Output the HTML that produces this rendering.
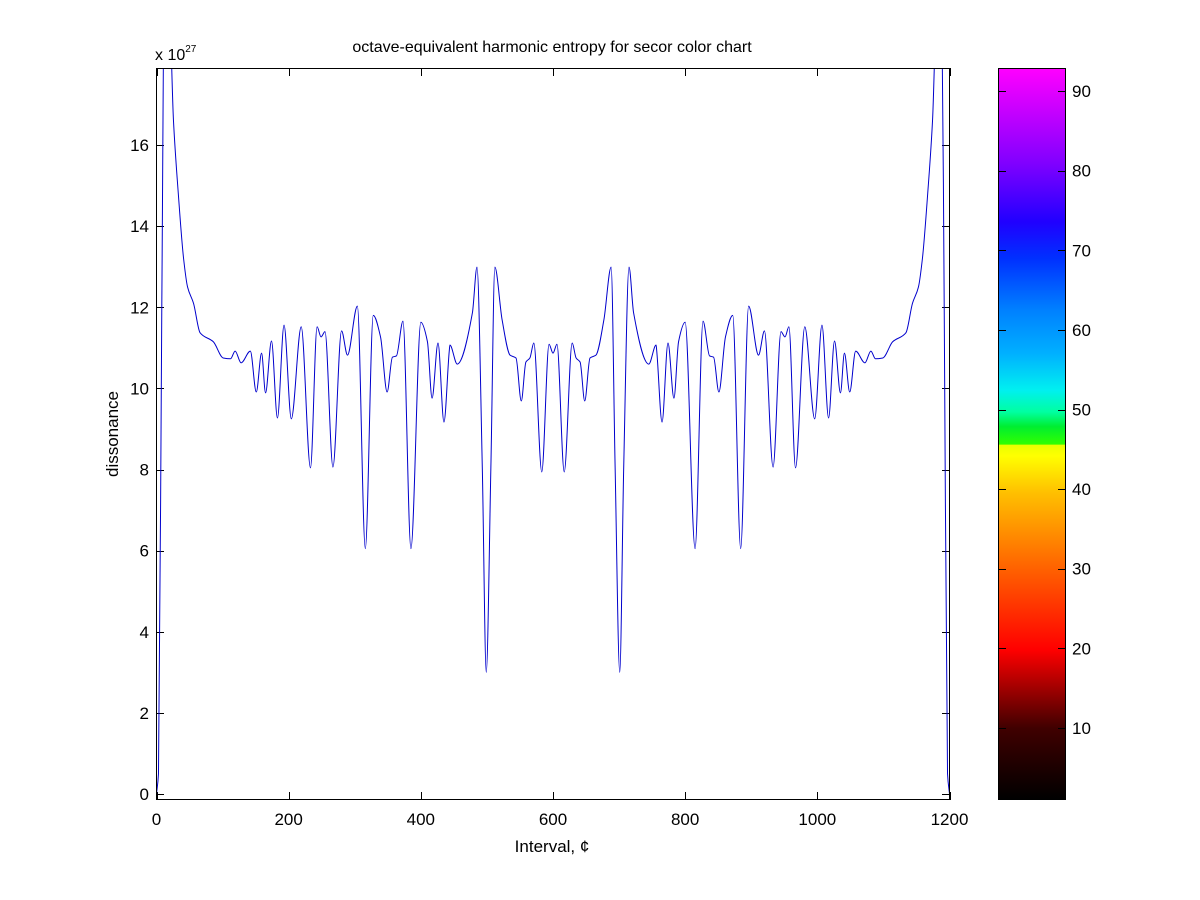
<!DOCTYPE html>
<html><head><meta charset="utf-8"><style>
html,body{margin:0;padding:0;background:#fff;}
svg{display:block;font-family:"Liberation Sans",Arial,sans-serif;}
</style></head><body>
<svg id="chart" width="1200" height="900" viewBox="0 0 1200 900">
<defs>
<clipPath id="plotClip"><rect x="156" y="68" width="794" height="732"/></clipPath>
<linearGradient id="cbGrad" x1="0" y1="1" x2="0" y2="0">
<stop offset="0" stop-color="#000000"/>
<stop offset="0.098" stop-color="#400000"/>
<stop offset="0.205" stop-color="#ff0000"/>
<stop offset="0.314" stop-color="#ff6000"/>
<stop offset="0.42" stop-color="#ffc000"/>
<stop offset="0.47" stop-color="#ffff00"/>
<stop offset="0.485" stop-color="#e8ff00"/>
<stop offset="0.486" stop-color="#30ff00"/>
<stop offset="0.51" stop-color="#00ee30"/>
<stop offset="0.53" stop-color="#00ffa0"/>
<stop offset="0.56" stop-color="#00f0f0"/>
<stop offset="0.61" stop-color="#00b0ff"/>
<stop offset="0.67" stop-color="#0080ff"/>
<stop offset="0.74" stop-color="#0030ff"/>
<stop offset="0.79" stop-color="#2000ff"/>
<stop offset="0.87" stop-color="#8000ff"/>
<stop offset="1" stop-color="#ff00ff"/>
</linearGradient>
</defs>
<rect x="156" y="68" width="794" height="732" fill="#fff" stroke="none"/>
<g id="ticks"></g>
<path id="curve" clip-path="url(#plotClip)" fill="none" stroke="#0000cc" stroke-width="1"/>
<rect x="156.5" y="68.5" width="793" height="731" fill="none" stroke="#000" stroke-width="1"/>
<text x="552" y="52" font-size="16" text-anchor="middle">octave-equivalent harmonic entropy for secor color chart</text>
<text x="155" y="60" font-size="16">x 10<tspan font-size="10" dy="-8">27</tspan></text>
<text x="552" y="852" font-size="17" text-anchor="middle">Interval, ¢</text>
<text x="0" y="0" font-size="17" text-anchor="middle" transform="translate(118,434) rotate(-90)">dissonance</text>
<rect x="998.5" y="68.5" width="67" height="731" fill="url(#cbGrad)" stroke="#000" stroke-width="1"/>
<g id="cbticks"></g>
</svg>
<script>
const xTicks = [0, 200, 400, 600, 800, 1000, 1200];
const yTicks = [0, 2, 4, 6, 8, 10, 12, 14, 16];
const cbTicks = [10, 20, 30, 40, 50, 60, 70, 80, 90];
const cents = [0,3,8,12,18,25.7,33,41,47,56,66,86,101,112,119,128,142,151,159,165,174,183,193,204,219,233,243,249,255,267,280,289,304,316,328,339,349,357,363,373,385,400,410,417,426,435,443,444,455,478,485,493,499,506,512,523,535,544,552,559,565,571,583,594,600,
606,617,629,635,641,648,656,665,677,688,694,701,707,715,722,745,756,757,765,774,783,790,800,815,827,837,843,851,861,872,884,896,911,920,933,945,951,957,967,981,996,1007,1017,1026,1035,1041,1049,1058,1072,1081,1088,1099,1114,1134,1144,1153,1159,1167,1174.3,1182,1188,1192,1197,1200];
const dissonance = [0,0.5,12,20,20,16.6,14.8,13.2,12.5,12.1,11.37,11.15,10.75,10.73,10.92,10.63,10.92,9.91,10.87,9.89,11.17,9.27,11.56,9.25,11.52,8.04,11.52,11.27,11.4,8.06,11.42,10.82,12.03,6.05,11.8,11.27,9.91,10.77,10.8,11.66,6.05,11.63,11.15,9.76,11.12,9.17,10.92,11.07,10.6,11.86,12.99,8.06,3.0,8.06,12.99,11.69,10.82,10.75,9.69,10.65,10.75,11.12,7.94,11.09,10.87,
11.09,7.94,11.12,10.75,10.65,9.69,10.75,10.82,11.69,12.99,8.06,3.0,8.06,12.99,11.86,10.6,11.07,10.92,9.17,11.12,9.76,11.15,11.63,6.05,11.66,10.8,10.77,9.91,11.27,11.8,6.05,12.03,10.82,11.42,8.06,11.4,11.27,11.52,8.04,11.52,9.25,11.56,9.27,11.17,9.89,10.87,9.91,10.92,10.63,10.92,10.73,10.75,11.15,11.37,12.1,12.5,13.2,14.8,16.6,20,20,12,0.5,0];

const X0=156.5, X1=949.5, Y0=800, Y1=68;
const xMin=0, xMax=1200, yMin=-0.148, yMax=17.9;
function xs(v){return X0+(v-xMin)/(xMax-xMin)*(X1-X0);}
function ys(v){return Y0-(v-yMin)/(yMax-yMin)*(Y0-Y1);}
const cbMin=0.95, cbMax=92.9;
function cs(v){return 800-(v-cbMin)/(cbMax-cbMin)*732;}
const NS='http://www.w3.org/2000/svg';
const tg=document.getElementById('ticks');
function mk(tag,attrs,parent,txt){const e=document.createElementNS(NS,tag);for(const k in attrs)e.setAttribute(k,attrs[k]);if(txt!==undefined)e.textContent=txt;parent.appendChild(e);return e;}
xTicks.forEach(t=>{
  const x=Math.round(xs(t))+0.5;
  const l1=mk('line',{x1:x,y1:800,x2:x,y2:792,stroke:'#000'},tg);
  
  
  const l2=mk('line',{x1:x,y1:68,x2:x,y2:76,stroke:'#000'},tg);
  
  
  const tx=mk('text',{x:xs(t),y:825,'font-size':17,'text-anchor':'middle'},tg,String(t));
  
  
});
yTicks.forEach(t=>{
  const y=Math.round(ys(t))+0.5;
  const l1=mk('line',{x1:156,y1:y,x2:164,y2:y,stroke:'#000'},tg);
  
  
  const l2=mk('line',{x1:942,y1:y,x2:950,y2:y,stroke:'#000'},tg);
  
  
  const tx=mk('text',{x:149,y:ys(t)+6,'font-size':17,'text-anchor':'end'},tg,String(t));
  
  
});
const cg=document.getElementById('cbticks');
cbTicks.forEach(t=>{
  const y=Math.round(cs(t))+0.5;
  const l1=mk('line',{x1:999,y1:y,x2:1006,y2:y,stroke:'#000'},cg);
  
  
  const l2=mk('line',{x1:1058,y1:y,x2:1065,y2:y,stroke:'#000'},cg);
  
  
  const tx=mk('text',{x:1072,y:cs(t)+6,'font-size':17},cg,String(t));
  
  
});
// monotone cubic (Fritsch-Carlson) path through the data
const px=cents.map(xs), py=dissonance.map(ys);
const n=px.length, m=new Array(n), dl=[];
for(let i=0;i<n-1;i++){dl.push((py[i+1]-py[i])/(px[i+1]-px[i]));}
m[0]=dl[0]; m[n-1]=dl[n-2];
for(let i=1;i<n-1;i++){
  if(dl[i-1]*dl[i]<=0){m[i]=0;}
  else{const w1=2*(px[i+1]-px[i])+(px[i]-px[i-1]), w2=(px[i+1]-px[i])+2*(px[i]-px[i-1]);
       m[i]=(w1+w2)/(w1/dl[i-1]+w2/dl[i]);}
}
let d='M'+px[0].toFixed(2)+' '+py[0].toFixed(2);
for(let i=0;i<n-1;i++){
  const h=(px[i+1]-px[i])/3;
  d+=' C'+(px[i]+h).toFixed(2)+' '+(py[i]+m[i]*h).toFixed(2)+' '+(px[i+1]-h).toFixed(2)+' '+(py[i+1]-m[i+1]*h).toFixed(2)+' '+px[i+1].toFixed(2)+' '+py[i+1].toFixed(2);
}
document.getElementById('curve').setAttribute('d',d);
</script>
</body></html>
